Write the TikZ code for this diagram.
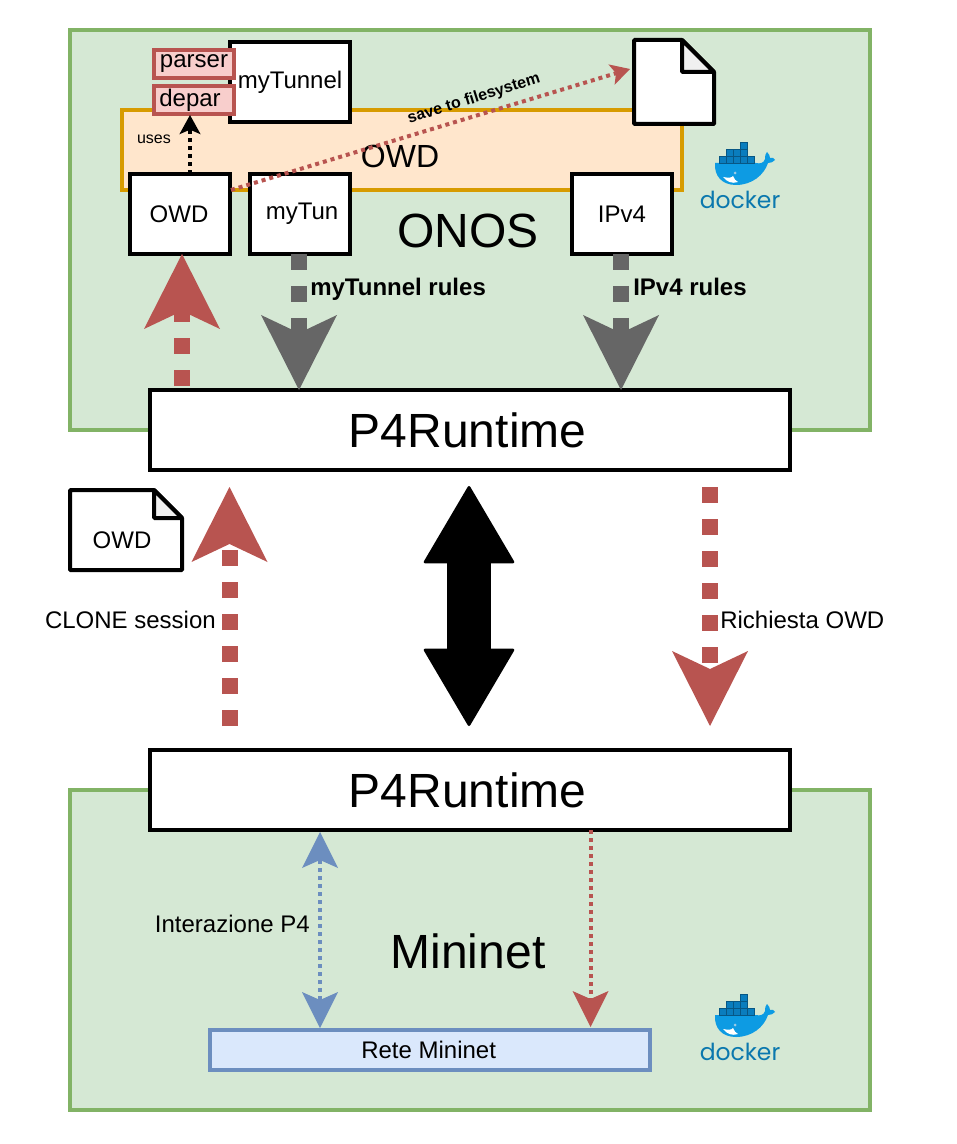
\documentclass[tikz,border=0pt]{standalone}
\usepackage{fontspec}
\setmainfont{Liberation Sans}
\newfontfamily\dockerfont{Poppins}
\usetikzlibrary{arrows.meta}
\definecolor{greenfill}{HTML}{D5E8D4}
\definecolor{greenline}{HTML}{82B366}
\definecolor{orangefill}{HTML}{FFE6CC}
\definecolor{orangeline}{HTML}{D79B00}
\definecolor{redfill}{HTML}{F8CECC}
\definecolor{redline}{HTML}{B85450}
\definecolor{bluefill}{HTML}{DAE8FC}
\definecolor{blueline}{HTML}{6C8EBF}
\definecolor{grayline}{HTML}{666666}
\definecolor{whale}{HTML}{0D9BE3}
\definecolor{crate}{HTML}{0A7DBE}
\definecolor{dockertext}{HTML}{0B78AE}
\tikzset{
    bigtip/.tip={Stealth[length=56.25pt,width=57pt,inset=13.5pt,line width=0pt]},
    smalltip/.tip={Stealth[length=27pt,width=27pt,inset=6pt,line width=0pt]},
    tinytip/.tip={Stealth[length=14.5pt,width=16pt,inset=3.5pt,line width=0pt]},
    blocktip/.tip={Stealth[round,length=59pt,width=69pt,inset=0pt,line width=2pt]},
    box/.style={draw=black, fill=white, line width=3pt, outer sep=0pt, inner sep=0pt, font=\fontsize{18}{20}\selectfont},
    rtbox/.style={box, minimum width=480pt, minimum height=60pt, font=\fontsize{36}{40}\selectfont},
    smallbox/.style={box, minimum width=75pt, minimum height=60pt},
    redbox/.style={box, draw=redline, fill=redfill, minimum width=60pt, minimum height=21pt},
    bigdash/.style={line width=12pt, dash pattern=on 12pt off 12pt},
    thindash/.style={line width=3pt, dash pattern=on 3pt off 3pt},
    lbl/.style={inner sep=0pt, font=\fontsize{18}{20}\selectfont},
    biglbl/.style={inner sep=0pt, font=\fontsize{36}{40}\selectfont},
    dockerlogo/.pic={
        \fill[whale] (-25,-37) -- (16,-37) .. controls (20,-36) and (24,-37) .. (25,-41)
            .. controls (25,-45) and (26,-47) .. (27,-48) .. controls (29,-46) and (30,-44) .. (30,-42)
            .. controls (32,-43) and (34,-42) .. (35,-40) .. controls (33,-38) and (31,-37) .. (28,-37)
            .. controls (24,-25) and (12,-15) .. (-4,-15) .. controls (-18,-15) and (-26,-24) .. (-25,-37);
        \fill[white] (-17,-23) .. controls (-12,-22) and (-8,-22) .. (-7,-24)
            .. controls (-6,-21) and (-4,-19) .. (-2,-18) .. controls (-8,-16) and (-13,-18) .. (-17,-23);
        \fill[crate!40!white] (-5,-27) circle (1.5);
        \foreach \bx/\by in {-21/-44,-14/-44,-7/-44,0/-44,7/-44,-14/-51,-7/-51,0/-51,0/-58}
            \draw[crate!70!black, fill=crate, line width=0.3pt] (\bx,\by) rectangle ++(7,7);
        \node[inner sep=0pt, text=dockertext, font=\dockerfont\fontsize{17.6}{18}\selectfont] (dockerword) at (0,0) {docker};
    }
}
\begin{document}
\begin{tikzpicture}[x=0.75pt, y=-0.75pt]
    \useasboundingbox (0,0) rectangle (956,1144);
    % containers
    \draw[greenline, fill=greenfill, line width=3pt] (70,30) rectangle (870,430);
    \draw[greenline, fill=greenfill, line width=3pt] (70,790) rectangle (870,1110);
    \draw[orangeline, fill=orangefill, line width=3pt] (122,110) rectangle (682,190);
    \node[lbl, font=\fontsize{24}{26}\selectfont] (owdlabel) at (400,156) {OWD};
    \node[biglbl] (onoslabel) at (468,231) {ONOS};
    \node[biglbl] (mininetlabel) at (468,951) {Mininet};
    % top boxes
    \node[box, minimum width=90pt, minimum height=60pt] (mytunnel) at (290,82) {myTunnel};
    \node[redbox] (parser) at (194,64) {parser};
    \node[redbox] (depar) at (194,100) {depar\kern6pt};
    \node[smallbox] (owdbox) at (180,214) {OWD\kern1.5pt};
    \node[smallbox] (mytun) at (300,214) {\kern3pt myTun};
    \node[smallbox] (ipv) at (622,214) {IPv4};
    % file icons
    \draw[black, fill=white, line width=3pt, line join=bevel] (634,40) -- (682,40) -- (714,72) -- (714,124) -- (634,124) -- cycle;
    \draw[black, fill=black!6, line width=3pt, line join=bevel] (682,40) -- (682,72) -- (714,72) -- cycle;
    \coordinate (filetip) at (630,69);
    \draw[black, fill=white, line width=3pt, line join=bevel] (70,490) -- (154,490) -- (182,518) -- (182,570) -- (70,570) -- cycle;
    \draw[black, fill=black!6, line width=3pt, line join=bevel] (154,490) -- (154,518) -- (182,518) -- cycle;
    \node[lbl] (owdfile) at (122,540) {OWD};
    % runtime boxes
    \node[rtbox] (rtonos) at (470,430) {P4Runtime\kern3.5pt};
    \node[rtbox] (rtmini) at (470,790) {P4Runtime\kern3.5pt};
    \node[box, draw=blueline, fill=bluefill, minimum width=330pt, minimum height=30pt] (rete) at (430,1050) {Rete Mininet\kern2pt};
    % docker
    \pic at (740,200) {dockerlogo};
    \pic at (740,1052) {dockerlogo};
    % coordinates for free ends
    \coordinate (owdfrom) at (182,386);
    \coordinate (owdto) at (182,254);
    \coordinate (clonefrom) at (229.5,726);
    \coordinate (cloneto) at (229.5,487);
    \coordinate (richfrom) at (710,487);
    \coordinate (richto) at (710,726);
    \coordinate (midtop) at (469,486);
    \coordinate (midbot) at (469,726);
    \coordinate (usesfrom) at (190,174);
    \coordinate (usesto) at (190,115);
    \coordinate (savefrom) at (231,190);
    \coordinate (miniblue) at (320,832);
    \coordinate (blueend) at (320,1028);
    \coordinate (minired) at (590.5,830);
    \coordinate (redend) at (590.5,1027);
    % arrows
    \draw[-{bigtip}, redline, bigdash] (owdfrom) -- (owdto);
    \draw[-{bigtip}, grayline, bigdash] ([xshift=-0.75pt]mytun.south) -- ([xshift=-0.75pt]mytun.south |- rtonos.north);
    \draw[-{bigtip}, grayline, bigdash] ([xshift=-0.75pt]ipv.south) -- ([xshift=-0.75pt]ipv.south |- rtonos.north);
    \draw[-{bigtip}, redline, bigdash] (clonefrom) -- (cloneto);
    \draw[-{bigtip}, redline, bigdash] (richfrom) -- (richto);
    \draw[{blocktip}-{blocktip}, black, line width=33pt] (midtop) -- (midbot);
    \draw[-{tinytip}, black, thindash] (usesfrom) -- (usesto);
    \draw[-{tinytip}, redline, thindash] (savefrom) -- (filetip);
    \draw[{smalltip}-{smalltip}, blueline, thindash] (miniblue) -- (blueend);
    \draw[-{smalltip}, redline, thindash] (minired) -- (redend);
    % labels
    \node[lbl, font=\fontsize{12}{14}\selectfont] (useslabel) at (154,139) {uses};
    \node[lbl, font=\bfseries\fontsize{12}{14}\selectfont, rotate=17.4] (savelabel) at (474,99) {save to filesystem};
    \node[lbl, font=\bfseries\fontsize{18}{20}\selectfont, anchor=base west] (tunrules) at (310,296) {myTunnel rules};
    \node[lbl, font=\bfseries\fontsize{18}{20}\selectfont, anchor=base west] (iprules) at (633,296) {IPv4 rules};
    \node[lbl, anchor=east] (clonelabel) at (216,620) {CLONE session};
    \node[lbl, anchor=west] (richlabel) at (720,620) {Richiesta OWD};
    \node[lbl, anchor=east] (p4label) at (310,924) {Interazione P4};
\end{tikzpicture}
\end{document}
